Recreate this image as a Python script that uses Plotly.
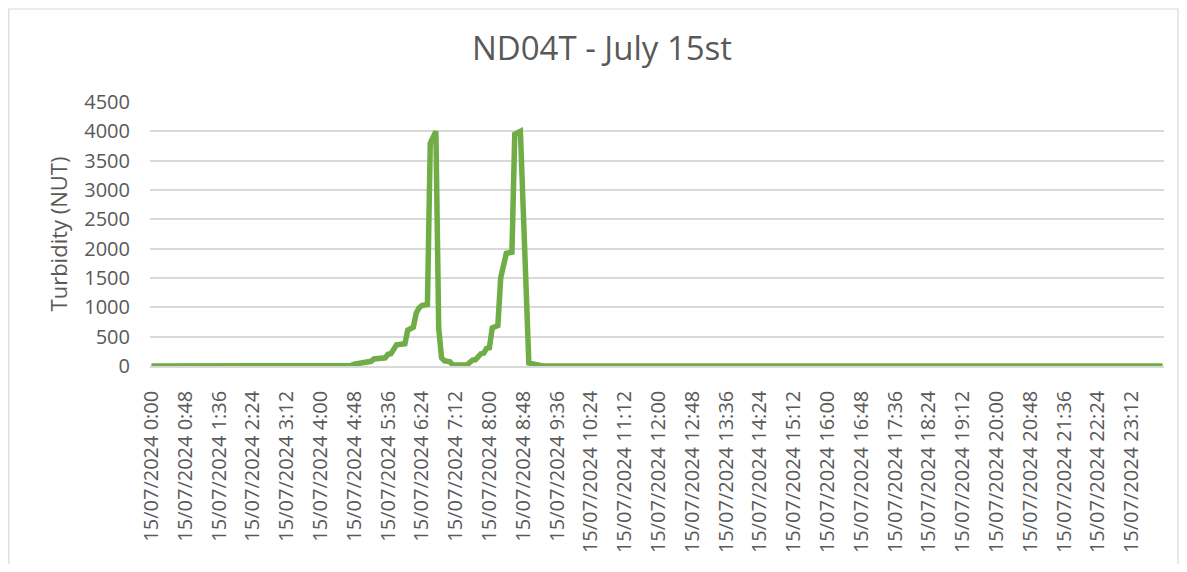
import plotly.graph_objects as go

# ---- data ----
title_text = "ND04T - July 15st"
y_title = "Turbidity (NUT)"

# timestamps every 4 minutes, 15/07/2024 0:00 .. 23:56
hours = [h for h in range(24) for _ in range(15)]
minutes = [m for _ in range(24) for m in range(0, 60, 4)]
timestamps = [f"15/07/2024 {h}:{m:02d}" for h, m in zip(hours, minutes)]

turbidity = [
    0, 0, 0, 0, 0, 0, 0, 0, 0, 0, 0, 0,
    0, 0, 0, 0, 0, 0, 0, 0, 0, 0, 0, 0,
    0, 0, 0, 0, 0, 0, 0, 0, 0, 0, 0, 0,
    0, 0, 0, 0, 0, 0, 0, 0, 0, 0, 0, 0,
    0, 0, 0, 0, 0, 0, 0, 0, 0, 0, 0, 0,
    0, 0, 0, 0, 0, 0, 0, 0, 0, 0, 5, 10,
    30, 35, 40, 45, 70, 75, 80, 120, 125, 125, 130, 140,
    200, 210, 280, 360, 365, 370, 380, 610, 650, 660, 900, 990,
    1030, 1045, 1050, 3800, 3900, 4000, 650, 140, 90, 80, 70, 20,
    15, 15, 15, 15, 15, 60, 100, 105, 150, 210, 220, 300,
    310, 650, 670, 690, 1500, 1750, 1920, 1930, 1940, 3950, 3990, 4000,
    2680, 1360, 50, 40, 30, 0, 0, 0, 0, 0, 0, 0,
    0, 0, 0, 0, 0, 0, 0, 0, 0, 0, 0, 0,
    0, 0, 0, 0, 0, 0, 0, 0, 0, 0, 0, 0,
    0, 0, 0, 0, 0, 0, 0, 0, 0, 0, 0, 0,
    0, 0, 0, 0, 0, 0, 0, 0, 0, 0, 0, 0,
    0, 0, 0, 0, 0, 0, 0, 0, 0, 0, 0, 0,
    0, 0, 0, 0, 0, 0, 0, 0, 0, 0, 0, 0,
    0, 0, 0, 0, 0, 0, 0, 0, 0, 0, 0, 0,
    0, 0, 0, 0, 0, 0, 0, 0, 0, 0, 0, 0,
    0, 0, 0, 0, 0, 0, 0, 0, 0, 0, 0, 0,
    0, 0, 0, 0, 0, 0, 0, 0, 0, 0, 0, 0,
    0, 0, 0, 0, 0, 0, 0, 0, 0, 0, 0, 0,
    0, 0, 0, 0, 0, 0, 0, 0, 0, 0, 0, 0,
    0, 0, 0, 0, 0, 0, 0, 0, 0, 0, 0, 0,
    0, 0, 0, 0, 0, 0, 0, 0, 0, 0, 0, 0,
    0, 0, 0, 0, 0, 0, 0, 0, 0, 0, 0, 0,
    0, 0, 0, 0, 0, 0, 0, 0, 0, 0, 0, 0,
    0, 0, 0, 0, 0, 0, 0, 0, 0, 0, 0, 0,
    0, 0, 0, 0, 0, 0, 0, 0, 0, 0, 0, 0,
]

tick_labels = timestamps[::12]
y_ticks = [0, 500, 1000, 1500, 2000, 2500, 3000, 3500, 4000, 4500]

# ---- style ----
# page has an 8px body margin, so figure coords = page coords - 8
OFF = 8
W, H = 1171, 556
ML = 150 - OFF
MT = 102 - OFF
MR = W - (1164 - OFF)
MB = H - (366.5 - OFF)
FONT = "Open Sans"
GREY = "#595959"

fig = go.Figure()
fig.add_trace(go.Scatter(
    x=timestamps, y=turbidity, mode="lines",
    line=dict(color="#70AD47", width=5.5),
    showlegend=False,
))

pw = W - ML - MR
ph = H - MT - MB
def px_x(p):
    return (p - OFF - ML) / pw
def px_y(p):
    return (H - MB - (p - OFF)) / ph

fig.update_layout(
    width=W, height=H,
    margin=dict(l=ML, r=MR, t=MT, b=MB, pad=0),
    paper_bgcolor="white", plot_bgcolor="white",
    font=dict(family=FONT, color=GREY, size=20),
    title=dict(text=title_text, x=(602 - OFF) / W, xref="container", xanchor="center",
               y=1 - (48 - OFF) / H, yref="container", yanchor="middle",
               font=dict(family=FONT, size=33, color=GREY)),
    xaxis=dict(type="category", tickmode="array", tickvals=tick_labels,
               ticktext=tick_labels, tickangle=-90, showgrid=False,
               showline=True, linecolor="#D9D9D9", linewidth=1.5,
               ticks="", ticklabelstandoff=15,
               tickfont=dict(family=FONT, size=20, color=GREY),
               range=[-0.5, len(timestamps) - 0.5]),
    yaxis=dict(range=[0, 4500], tickvals=y_ticks, showgrid=True,
               gridcolor="#D9D9D9", gridwidth=1.5, zeroline=False,
               showline=False, ticks="", ticklabelstandoff=19,
               tickfont=dict(family=FONT, size=20, color=GREY),
               title=dict(text=y_title, standoff=10,
                          font=dict(family=FONT, size=22, color=GREY))),
    shapes=[dict(type="rect", xref="paper", yref="paper",
                 x0=px_x(8.8), x1=px_x(1178), y0=px_y(590), y1=px_y(8.8),
                 line=dict(color="#D9D9D9", width=1.2), layer="below")],
)

fig.write_html("out.html")
